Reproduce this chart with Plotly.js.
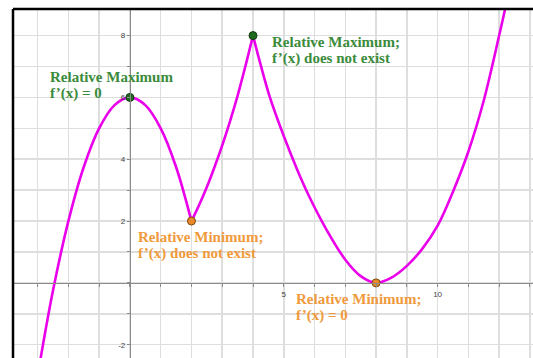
<!DOCTYPE html>
<html>
<head>
<meta charset="utf-8">
<script src="https://cdn.plot.ly/plotly-3.0.1.min.js"></script>
<style>
  html, body { margin: 0; padding: 0; background: #ffffff; }
  #chart { width: 533px; height: 358px; }
</style>
</head>
<body>
<div id="chart"></div>
<script>
// ---- data ----
const segLeftX  = [-3.0, -2.5, -2.0, -1.5, -1.0, -0.5, 0, 0.5, 1.0, 1.5, 2.0];
const segLeftY  = [-3.0, -0.25, 2.0, 3.75, 5.0, 5.75, 6.0, 5.75, 5.0, 3.75, 2.0];
const segRiseX  = [2.0, 2.25, 2.5, 2.75, 3.0, 3.25, 3.5, 3.75, 4.0];
const segRiseY  = [2.0, 2.52, 3.1, 3.75, 4.45, 5.22, 6.06, 7.0, 8.0];
const segRightX = [4.0, 4.25, 4.55, 5.0, 5.4, 5.8, 6.4, 7.0, 7.5, 8.0, 8.5, 9.0, 9.5, 10.0, 10.5, 11.0, 11.5, 12.0, 12.4];
const segRightY = [8.0, 7.05, 6.0, 4.75, 3.75, 2.85, 1.7, 0.75, 0.22, 0, 0.17, 0.55, 1.1, 1.85, 2.95, 4.25, 5.9, 8.0, 9.8];

const maxX = [0, 4];
const maxY = [6, 8];
const minX = [2, 8];
const minY = [2, 0];

const xLabelVals = [5, 10];
const yLabelVals = [-2, 2, 4, 6, 8];

const maxLabels = [
  ["Relative Maximum", "f’(x) = 0"],
  ["Relative Maximum;", "f’(x) does not exist"]
];
const minLabels = [
  ["Relative Minimum;", "f’(x) does not exist"],
  ["Relative Minimum;", "f’(x) = 0"]
];

// ---- view ----
const xRange = [-3.80, 13.10];
const yRange = [-2.43, 8.86];

function unitTicks(r) {
  const v = [];
  for (let k = Math.ceil(r[0]); k <= Math.floor(r[1]); k++) v.push(k);
  return v;
}
const xTicks = unitTicks(xRange);
const yTicks = unitTicks(yRange);
const xText = xTicks.map(v => xLabelVals.includes(v) ? String(v) : "");
const yText = yTicks.map(v => yLabelVals.includes(v) ? String(v) : "");

const curveColor = "#ea00ea";
const curveLine = {color: curveColor, width: 2.6, shape: "spline"};

const traces = [
  {x: segLeftX, y: segLeftY, mode: "lines", line: curveLine, hoverinfo: "skip"},
  {x: segRiseX, y: segRiseY, mode: "lines", line: curveLine, hoverinfo: "skip"},
  {x: segRightX, y: segRightY, mode: "lines", line: curveLine, hoverinfo: "skip"},
  {x: maxX, y: maxY, mode: "markers", cliponaxis: false,
   marker: {size: 8, color: "#1f6a1f", line: {color: "#0f3d0f", width: 1}}},
  {x: minX, y: minY, mode: "markers", cliponaxis: false,
   marker: {size: 8, color: "#e8892a", line: {color: "#7a4a10", width: 1}}}
];

const green = "#3b8b3b";
const orange = "#f09a3c";
const labelFont = (c) => ({family: "Liberation Serif, serif", size: 15, color: c});

// anchor positions of label blocks (x left, y of first & second line centre)
const labelAnchors = [
  {x: -2.63, y1: 6.65, y2: 6.115, lines: maxLabels[0], color: green},
  {x: 4.57,  y1: 7.79, y2: 7.257, lines: maxLabels[1], color: green},
  {x: 0.24,  y1: 1.472, y2: 0.939, lines: minLabels[0], color: orange},
  {x: 5.36,  y1: -0.534, y2: -1.068, lines: minLabels[1], color: orange}
];
const annotations = [];
labelAnchors.forEach(a => {
  [a.y1, a.y2].forEach((yy, i) => {
    annotations.push({
      x: a.x, y: yy, xref: "x", yref: "y",
      text: "<b>" + a.lines[i] + "</b>",
      showarrow: false, xanchor: "left", yanchor: "middle",
      font: labelFont(a.color), borderpad: 0
    });
  });
});

const axisCommon = {
  tickmode: "array",
  showgrid: true, gridcolor: "#dedede", gridwidth: 1.5,
  zeroline: false,
  showline: true, linecolor: "#8a8a8a", linewidth: 1.5,
  ticks: "outside", ticklen: 3, tickcolor: "#8a8a8a", tickwidth: 1,
  tickfont: {family: "Liberation Sans, Arial, sans-serif", size: 8, color: "#444"},
  anchor: "free", fixedrange: true
};

const layout = {
  width: 533, height: 358,
  margin: {l: 13, r: 0, t: 9, b: 0, pad: 0},
  paper_bgcolor: "#ffffff", plot_bgcolor: "#ffffff",
  showlegend: false,
  xaxis: Object.assign({}, axisCommon, {
    range: xRange, tickvals: xTicks, ticktext: xText,
    position: (0 - yRange[0]) / (yRange[1] - yRange[0])
  }),
  yaxis: Object.assign({}, axisCommon, {
    range: yRange, tickvals: yTicks, ticktext: yText,
    position: (0 - xRange[0]) / (xRange[1] - xRange[0])
  }),
  shapes: [
    {type: "line", xref: "paper", yref: "paper", x0: 0, x1: 0, y0: 0, y1: 1,
     line: {color: "#000", width: 2.5}},
    {type: "line", xref: "paper", yref: "paper", x0: 0, x1: 1, y0: 1, y1: 1,
     line: {color: "#000", width: 2.5}}
  ],
  annotations: annotations
};

Plotly.newPlot("chart", traces, layout, {staticPlot: true, displayModeBar: false});
</script>
</body>
</html>
